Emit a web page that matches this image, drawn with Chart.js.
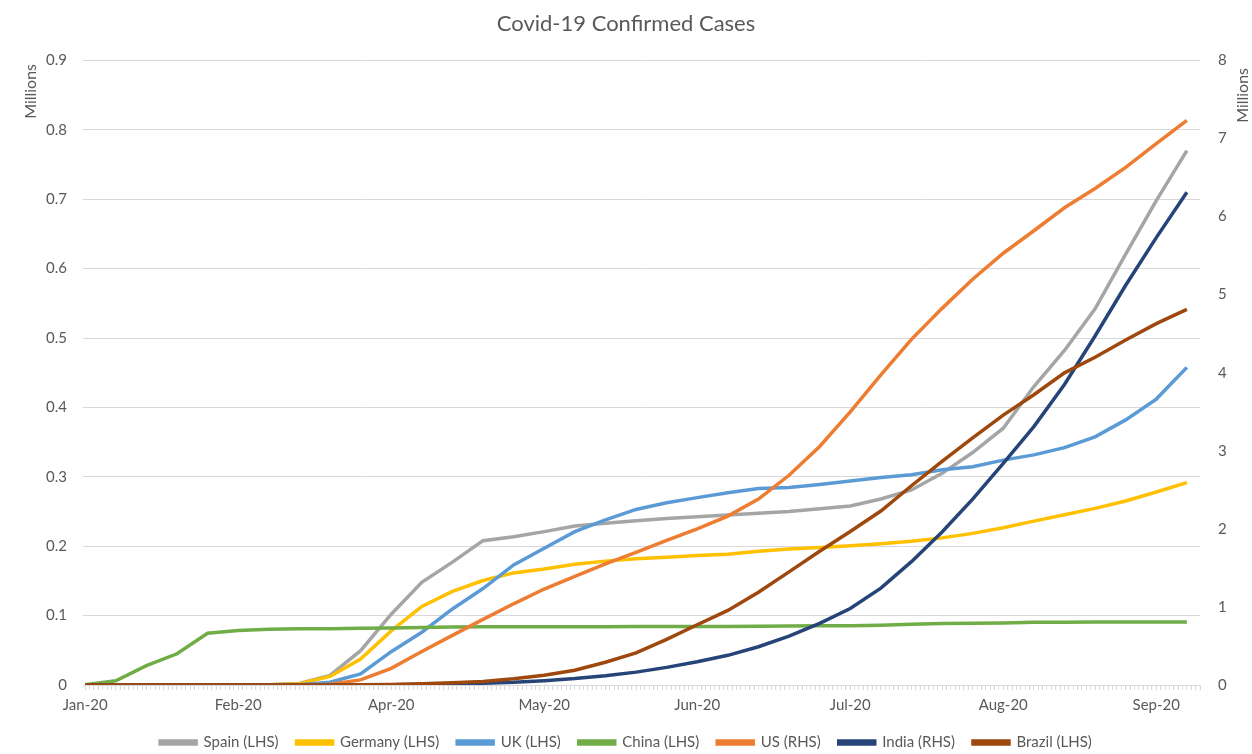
<!DOCTYPE html>
<html>
<head>
<meta charset="utf-8">
<title>Covid-19 Confirmed Cases</title>
<script src="https://cdn.jsdelivr.net/npm/chart.js@4.4.0/dist/chart.umd.min.js"></script>
<style>
    body { margin: 0; background: #fff; }
    #wrap { width: 1252px; height: 754px; }
</style>
</head>
<body>
<div id="wrap"><canvas id="covidChart" width="1252" height="754"></canvas></div>
<script>
// ngày tính từ 22/01/2020, mỗi điểm cách nhau 1 tuần
const days = [0, 7, 14, 21, 28, 35, 42, 49, 56, 63, 70, 77, 84, 91, 98, 105, 112, 119, 126,
    133, 140, 147, 154, 161, 168, 175, 182, 189, 196, 203, 210, 217, 224, 231, 238, 245, 252];

// nhãn trục x (Excel ghi nhãn mỗi 35 ngày)
const tickDays = [0, 35, 70, 105, 140, 175, 210, 245];
const tickLabels = ['Jan-20', 'Feb-20', 'Apr-20', 'May-20', 'Jun-20', 'Jul-20', 'Aug-20', 'Sep-20'];
const lastDay = 255;

// số ca xác nhận, đơn vị triệu
const spain = [0, 0, 0, 0, 0, 0, 0.0002, 0.0023, 0.0139, 0.0495, 0.102, 0.148, 0.177, 0.208, 0.2135,
    0.221, 0.229, 0.233, 0.2365, 0.240, 0.2425, 0.245, 0.2475, 0.250, 0.254, 0.258, 0.268, 0.281,
    0.305, 0.335, 0.37, 0.43, 0.482, 0.542, 0.621, 0.698, 0.770];
const germany = [0, 0, 0, 0, 0, 0.00002, 0.0003, 0.0019, 0.0123, 0.0373, 0.0779, 0.1133, 0.1348,
    0.1506, 0.1615, 0.1673, 0.1741, 0.1785, 0.1818, 0.1841, 0.1865, 0.1885, 0.1926, 0.1959, 0.1982,
    0.2005, 0.2037, 0.2071, 0.212, 0.2185, 0.2267, 0.2361, 0.2454, 0.2545, 0.2652, 0.2781, 0.2917];
const uk = [0, 0, 0, 0, 0, 0, 0.0001, 0.0005, 0.004, 0.016, 0.048, 0.076, 0.1096, 0.139, 0.173,
    0.197, 0.221, 0.238, 0.253, 0.2625, 0.270, 0.277, 0.283, 0.2846, 0.289, 0.294, 0.299, 0.303,
    0.31, 0.3146, 0.324, 0.3316, 0.342, 0.3576, 0.382, 0.412, 0.4577];
const china = [0.0005, 0.006, 0.028, 0.045, 0.0746, 0.0785, 0.0804, 0.0809, 0.0811, 0.0816, 0.0823,
    0.0828, 0.0834, 0.0839, 0.0839, 0.084, 0.0841, 0.0841, 0.0842, 0.0842, 0.0842, 0.0844, 0.0846,
    0.0849, 0.0852, 0.0853, 0.0862, 0.0875, 0.0885, 0.089, 0.0895, 0.0903, 0.0905, 0.0906, 0.0907,
    0.0908, 0.0909];
const us = [0, 0, 0, 0, 0, 0, 0.0002, 0.0013, 0.0094, 0.0658, 0.2134, 0.429, 0.636, 0.84, 1.04,
    1.229, 1.39, 1.552, 1.70, 1.852, 2.0, 2.163, 2.381, 2.686, 3.055, 3.497, 3.971, 4.427, 4.824,
    5.197, 5.53, 5.818, 6.113, 6.36, 6.63, 6.933, 7.233];
const india = [0, 0, 0, 0, 0, 0, 0.00003, 0.00006, 0.00015, 0.0006, 0.002, 0.0065, 0.013, 0.023,
    0.035, 0.056, 0.082, 0.118, 0.165, 0.226, 0.298, 0.38, 0.49, 0.626, 0.79, 0.98, 1.24, 1.58,
    1.96, 2.38, 2.84, 3.31, 3.85, 4.47, 5.12, 5.73, 6.31];
const brazil = [0, 0, 0, 0, 0, 0, 0.00001, 0.00005, 0.0004, 0.0026, 0.0068, 0.016, 0.028, 0.046,
    0.08, 0.125, 0.19, 0.292, 0.412, 0.584, 0.772, 0.955, 1.189, 1.449, 1.713, 1.967, 2.228, 2.552,
    2.863, 3.165, 3.457, 3.717, 3.998, 4.198, 4.419, 4.628, 4.811];

const seriesNames = ['Spain (LHS)', 'Germany (LHS)', 'UK (LHS)', 'China (LHS)', 'US (RHS)', 'India (RHS)', 'Brazil (LHS)'];
const seriesValues = [spain, germany, uk, china, us, india, brazil];
const seriesColors = ['#A5A5A5', '#FFC000', '#5B9BD5', '#70AD47', '#ED7D31', '#264478', '#9E480E'];
const seriesAxis = ['y', 'y', 'y', 'y', 'y1', 'y1', 'y1'];

const textColor = '#595959';
const gridColor = '#D9D9D9';
const fontName = 'Lato';

function toPoints(values) {
    return days.map((d, i) => ({ x: d, y: values[i] }));
}

// chữ "Millions" ở đầu hai trục y
const unitLabels = {
    id: 'unitLabels',
    afterDraw(chart) {
        const ctx = chart.ctx;
        const top = chart.chartArea.top;
        ctx.save();
        ctx.font = '16px ' + fontName;
        ctx.fillStyle = textColor;
        ctx.textAlign = 'center';
        ctx.textBaseline = 'middle';
        const spots = [[chart.scales.y.left + 31, top + 31], [chart.scales.y1.right - 9, top + 35]];
        for (const [px, py] of spots) {
            ctx.save();
            ctx.translate(px, py);
            ctx.rotate(-Math.PI / 2);
            ctx.fillText('Millions', 0, 0);
            ctx.restore();
        }
        ctx.restore();
    }
};

const ctx = document.getElementById('covidChart').getContext('2d');

const covidChart = new Chart(ctx, {
    type: 'line',
    data: {
        datasets: seriesNames.map((name, i) => ({
            label: name,
            data: toPoints(seriesValues[i]),
            borderColor: seriesColors[i],
            backgroundColor: seriesColors[i],
            borderWidth: 3.5,
            pointRadius: 0,
            tension: 0,
            fill: false,
            yAxisID: seriesAxis[i],
            order: seriesNames.length - i
        }))
    },
    options: {
        responsive: false,
        animation: false,
        layout: { padding: { top: 0, bottom: -6, left: 0, right: 0 } },
        plugins: {
            title: {
                display: true,
                text: 'Covid-19 Confirmed Cases',
                color: textColor,
                font: { family: fontName, size: 22, weight: 'normal' },
                padding: { top: 11, bottom: 23 }
            },
            legend: {
                position: 'bottom',
                labels: {
                    boxWidth: 36,
                    boxHeight: 3,
                    padding: 18,
                    color: textColor,
                    font: { family: fontName, size: 15 },
                    sort: (a, b) => a.datasetIndex - b.datasetIndex
                }
            },
            tooltip: { enabled: false }
        },
        scales: {
            x: {
                type: 'linear',
                min: -0.5,
                max: lastDay,
                grid: { drawOnChartArea: false, tickLength: 5, tickColor: gridColor },
                border: { color: gridColor },
                // một vạch nhỏ cho mỗi ngày
                afterBuildTicks: (scale) => {
                    const ticks = [];
                    for (let d = 0; d <= lastDay; d++) ticks.push({ value: d });
                    scale.ticks = ticks;
                },
                ticks: {
                    autoSkip: false,
                    maxRotation: 0,
                    padding: 6,
                    color: textColor,
                    font: { family: fontName, size: 15 },
                    callback: (v) => {
                        const k = tickDays.indexOf(v);
                        return k >= 0 ? tickLabels[k] : '';
                    }
                },
                afterFit: (scale) => { scale.height = 32; }
            },
            y: {
                position: 'left',
                min: 0,
                max: 0.9,
                grid: { color: gridColor, drawTicks: false },
                border: { display: false },
                ticks: {
                    stepSize: 0.1,
                    padding: 16,
                    color: textColor,
                    font: { family: fontName, size: 15 },
                    callback: (v) => v === 0 ? '0' : v.toFixed(1)
                },
                afterFit: (scale) => { scale.width = 83; }
            },
            y1: {
                position: 'right',
                min: 0,
                max: 8,
                grid: { drawOnChartArea: false, drawTicks: false },
                border: { display: false },
                ticks: {
                    stepSize: 1,
                    padding: 18,
                    color: textColor,
                    font: { family: fontName, size: 15 }
                },
                afterFit: (scale) => { scale.width = 52; }
            }
        }
    },
    plugins: [unitLabels]
});
</script>
</body>
</html>
